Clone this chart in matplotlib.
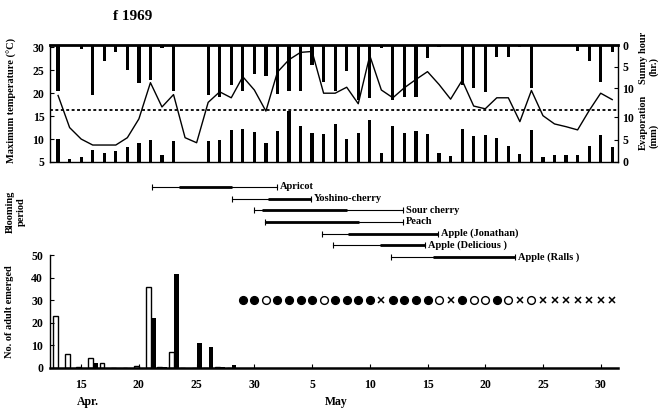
import matplotlib
matplotlib.use("Agg")
import matplotlib.pyplot as plt
import numpy as np

# ---------------- data ----------------
# day numbers counted from 1 April (31 = 1 May)
days_top = list(range(13, 62))
max_temp = [19.5, 12.5, 10.0, 8.7, 8.7, 8.7, 10.3, 14.4, 22.3, 17.0,
             19.7, 10.3, 9.2, 18.0, 20.3, 19.0, 23.6, 20.7, 16.1, 24.6,
             27.3, 28.9, 29.1, 20.0, 20.0, 21.3, 17.7, 28.2, 20.7, 19.0,
             21.2, 23.0, 24.7, 21.9, 18.7, 22.8, 17.2, 16.6, 19.0, 19.0,
             13.8, 20.6, 15.1, 13.3, 12.7, 12.0, 16.2, 20.0, 18.6]
sunny_hr = [10.7, 0.0, 0.7, 11.6, 3.7, 1.4, 5.8, 8.8, 8.1, 0.5,
            10.7, 0.0, 0.0, 11.6, 11.9, 9.3, 10.7, 6.7, 7.0, 11.2,
            10.7, 10.7, 4.5, 8.4, 10.7, 6.0, 12.8, 12.3, 0.5, 12.8,
            12.1, 11.9, 2.8, 0.3, 0.0, 9.1, 10.0, 10.9, 2.6, 2.6,
            0.3, 10.0, 0.0, 0.0, 0.0, 1.2, 3.7, 8.4, 1.4]
evap_mm = [5.1, 0.7, 1.1, 2.7, 2.0, 2.4, 3.3, 4.2, 4.9, 1.6,
           4.7, 0.0, 0.0, 4.7, 4.9, 7.1, 7.3, 6.7, 4.2, 6.9,
           11.3, 8.0, 6.4, 6.2, 8.4, 5.1, 6.4, 9.3, 2.0, 8.0,
           6.4, 6.9, 6.2, 2.0, 1.3, 7.3, 5.8, 6.0, 5.3, 3.6,
           1.8, 7.1, 1.1, 1.6, 1.6, 1.6, 3.6, 6.0, 3.3]
temp_ref = 16.3

bloom_names = ["Apricot", "Yoshino-cherry", "Sour cherry", "Peach",
               "Apple (Jonathan)", "Apple (Delicious )", "Apple (Ralls )"]
bloom_start = [21.1, 28.1, 30.0, 30.9, 35.9, 36.8, 41.8]
bloom_end = [32.0, 34.9, 42.9, 42.9, 45.9, 44.8, 52.6]
full_start = [23.5, 31.2, 30.7, 30.9, 38.1, 40.9, 45.5]
full_end = [28.1, 34.9, 38.0, 39.1, 45.9, 44.8, 52.6]

days_emg = list(range(13, 29))
emerged_open = [23, 6, 0.4, 4.4, 2.2, 0, 0, 0.8, 36, 0.3, 7.3, 0, 0, 0, 0.4, 0]
emerged_black = [0, 0, 0, 2.0, 0, 0, 0, 0, 22, 0.3, 41.5, 0, 11, 9.3, 0.4, 1.3]

days_wx = list(range(29, 62))
weather = list("FFOFFFFOFFFFXFFFFOXFOOFOXOXXXXXXX")

xtick_days = [15, 20, 25, 30, 35, 40, 45, 50, 55, 60]
xtick_labels = ["15", "20", "25", "30", "5", "10", "15", "20", "25", "30"]

# ---------------- layout ----------------
W, H = 658, 409
FONT = dict(family="Liberation Serif", weight="bold")
plt.rcParams["font.family"] = ["Liberation Serif", "DejaVu Serif"]
plt.rcParams["font.weight"] = "bold"

def box(x0, y0, x1, y1):
    return [x0 / W, 1 - y1 / H, (x1 - x0) / W, (y1 - y0) / H]

XLIM = (12.3, 61.5)
KS = 0.935   # sunny-hour scale on temperature axis
KE = 0.98    # evaporation scale on temperature axis
T_TOP, T_BOT = 30.4, 5.0

fig = plt.figure(figsize=(W / 100, H / 100), dpi=100)

# ---- adults emerged (drawn first, transparent background) ----
ax2 = fig.add_axes(box(50, 255, 618, 368))
ax2.patch.set_visible(False)
ax2.set_xlim(*XLIM)
ax2.set_ylim(0, 50)
ax2.bar([d - 0.2 for d in days_emg], emerged_open, width=0.42,
        facecolor="white", edgecolor="black", lw=1.0)
ax2.bar([d + 0.24 for d in days_emg], emerged_black, width=0.42,
        color="black", lw=0)
wx_y = 30
for d, w in zip(days_wx, weather):
    if w == "F":
        ax2.plot(d, wx_y, "o", ms=5.6, mfc="black", mec="black")
    elif w == "O":
        ax2.plot(d, wx_y, "o", ms=5.6, mfc="white", mec="black", mew=1.0)
    else:
        ax2.plot(d, wx_y, "x", ms=3.8, color="black", mew=1.1)
ax2.spines["top"].set_visible(False)
ax2.spines["right"].set_visible(False)
ax2.spines["bottom"].set_linewidth(1.8)
ax2.spines["left"].set_linewidth(1.0)
ax2.set_yticks([0, 10, 20, 30, 40, 50])
ax2.set_xticks(xtick_days)
ax2.set_xticklabels(xtick_labels)
ax2.tick_params(axis="y", direction="in", length=3, labelsize=8.5, pad=5)
ax2.tick_params(axis="x", direction="in", length=3, labelsize=8.5, pad=8)

# ---- top panel ----
ax = fig.add_axes(box(50, 45.5, 618, 162))
ax.set_xlim(*XLIM)
ax.set_ylim(T_BOT, T_TOP)
ax.bar(days_top, [-KS * v for v in sunny_hr], bottom=T_TOP, width=0.28,
       color="black", linewidth=0)
ax.bar(days_top, [KE * v for v in evap_mm], bottom=T_BOT, width=0.28,
       color="black", linewidth=0)
ax.plot(days_top, max_temp, color="black", lw=1.0)
ax.axhline(temp_ref, color="black", lw=1.3, ls=(0, (1.6, 1.4)))
ax.set_xticks([])
ax.set_yticks([5, 10, 15, 20, 25, 30])
ax.tick_params(axis="y", direction="in", length=3, labelsize=8.5, pad=4)
for s in ax.spines.values():
    s.set_linewidth(1.0)
ax.spines["top"].set_linewidth(2.0)

axr = ax.twinx()
axr.set_ylim(T_BOT, T_TOP)
rt_pos = [T_TOP - KS * v for v in (0, 5, 10)] + [T_BOT + KE * v for v in (10, 5, 0)]
axr.set_yticks(rt_pos)
axr.set_yticklabels(["0", "5", "10", "10", "5", "0"])
axr.tick_params(axis="y", direction="in", length=3, labelsize=8.5, pad=3)
for s in axr.spines.values():
    s.set_visible(False)

# ---- blooming period ----
axb = fig.add_axes(box(50, 180, 618, 262))
axb.patch.set_visible(False)
axb.set_xlim(*XLIM)
axb.set_ylim(6.43, -0.6)
axb.axis("off")
for i, name in enumerate(bloom_names):
    axb.plot([bloom_start[i], bloom_end[i]], [i, i], color="black", lw=0.8,
             marker="|", markersize=4, mew=0.8, clip_on=False)
    axb.plot([full_start[i], full_end[i]], [i, i], color="black", lw=2.0,
             solid_capstyle="butt", clip_on=False)
    axb.annotate(name, (bloom_end[i], i), xytext=(2, 0), textcoords="offset points",
                 va="center", ha="left", fontsize=7.5, **FONT)

# ---- text ----
fig.text(113 / W, 1 - 17 / H, "f 1969", fontsize=11, ha="left", va="center", **FONT)
fig.text(12 / W, 1 - 100 / H, "Maximum temperature (\u00b0C)", rotation=90,
         fontsize=7.5, ha="center", va="center", **FONT)
fig.text(16 / W, 1 - 212 / H, "Blooming\nperiod", rotation=90, fontsize=7.5,
         ha="center", va="center", multialignment="center", **FONT)
fig.text(10 / W, 1 - 312 / H, "No. of adult emerged", rotation=90,
         fontsize=7.5, ha="center", va="center", **FONT)
fig.text(643 / W, 1 - 58 / H, "Sunny hour", rotation=90, fontsize=7.5,
         ha="center", va="center", **FONT)
fig.text(654 / W, 1 - 66 / H, "(hr.)", rotation=90, fontsize=7.5,
         ha="center", va="center", **FONT)
fig.text(643 / W, 1 - 122 / H, "Evaporation", rotation=90, fontsize=7.5,
         ha="center", va="center", **FONT)
fig.text(654 / W, 1 - 136 / H, "(mm)", rotation=90, fontsize=7.5,
         ha="center", va="center", **FONT)
fig.text(88 / W, 1 - 402 / H, "Apr.", fontsize=8.5, ha="center", va="center", **FONT)
fig.text(325 / W, 1 - 402 / H, "May", fontsize=8.5, ha="left", va="center", **FONT)

fig.savefig("out.png", dpi=100)
